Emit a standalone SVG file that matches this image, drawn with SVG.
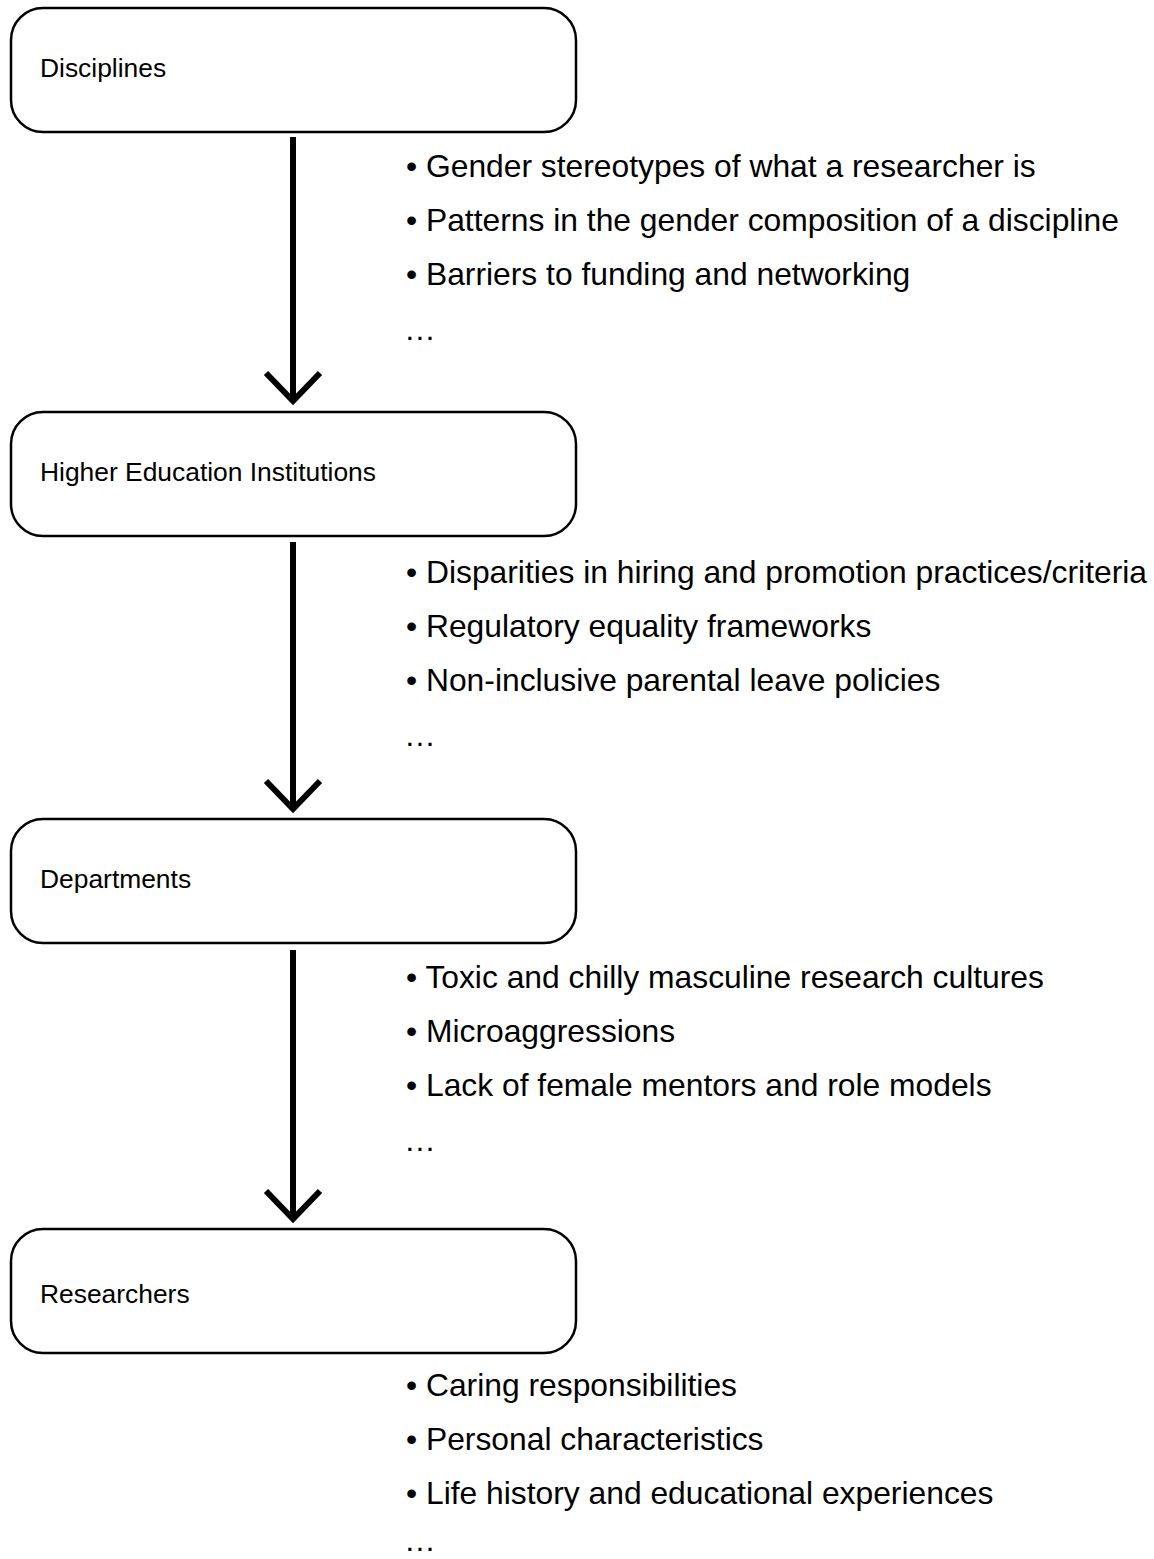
<svg xmlns="http://www.w3.org/2000/svg" width="1154" height="1559" viewBox="0 0 1154 1559">
<style>
.box{fill:#fff;stroke:#000;stroke-width:2.5}
.lbl{font-family:"Liberation Sans",Arial,sans-serif;font-size:26.4px;fill:#000}
.bul{font-family:"Liberation Sans",Arial,sans-serif;font-size:31.8px;fill:#000}
.arr{fill:none;stroke:#000;stroke-width:6}
</style>
<rect width="1154" height="1559" fill="#fff"/>
<g id="connectors">
<g id="arrow1"><line class="arr" x1="293" y1="137" x2="293" y2="401"/><polyline class="arr" points="266,373 293,401 320,373"/></g>
<g id="arrow2"><line class="arr" x1="293" y1="542" x2="293" y2="809"/><polyline class="arr" points="266,781 293,809 320,781"/></g>
<g id="arrow3"><line class="arr" x1="293" y1="950" x2="293" y2="1219"/><polyline class="arr" points="266,1191 293,1219 320,1191"/></g>
</g>
<g id="node-disciplines"><rect class="box" x="11" y="8" width="565" height="124" rx="32"/><text class="lbl" x="40" y="77">Disciplines</text></g>
<g id="node-hei"><rect class="box" x="11" y="412" width="565" height="124" rx="32"/><text class="lbl" x="40" y="481">Higher Education Institutions</text></g>
<g id="node-departments"><rect class="box" x="11" y="819" width="565" height="124" rx="32"/><text class="lbl" x="40" y="888">Departments</text></g>
<g id="node-researchers"><rect class="box" x="11" y="1229" width="565" height="124" rx="32"/><text class="lbl" x="40" y="1303">Researchers</text></g>
<g id="list1">
<text class="bul" x="406" y="177">• Gender stereotypes of what a researcher is</text>
<text class="bul" x="406" y="231">• Patterns in the gender composition of a discipline</text>
<text class="bul" x="406" y="285">• Barriers to funding and networking</text>
<text class="bul" x="404" y="340">…</text>
</g>
<g id="list2">
<text class="bul" x="406" y="583">• Disparities in hiring and promotion practices/criteria</text>
<text class="bul" x="406" y="637">• Regulatory equality frameworks</text>
<text class="bul" x="406" y="691">• Non-inclusive parental leave policies</text>
<text class="bul" x="404" y="746">…</text>
</g>
<g id="list3">
<text class="bul" x="406" y="988">• Toxic and chilly masculine research cultures</text>
<text class="bul" x="406" y="1042">• Microaggressions</text>
<text class="bul" x="406" y="1096">• Lack of female mentors and role models</text>
<text class="bul" x="404" y="1151">…</text>
</g>
<g id="list4">
<text class="bul" x="406" y="1396">• Caring responsibilities</text>
<text class="bul" x="406" y="1450">• Personal characteristics</text>
<text class="bul" x="406" y="1504">• Life history and educational experiences</text>
<text class="bul" x="404" y="1551">…</text>
</g>
</svg>
